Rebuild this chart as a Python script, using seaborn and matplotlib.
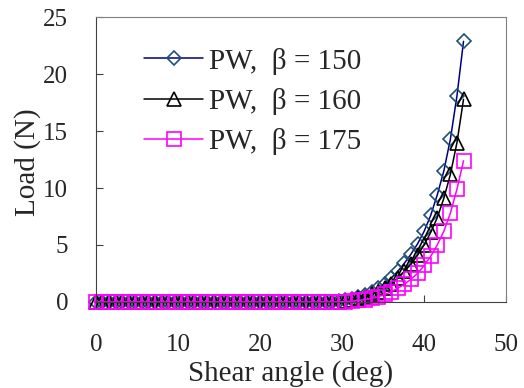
import pandas as pd
import matplotlib
matplotlib.use("Agg")
import matplotlib.pyplot as plt
import seaborn as sns

# shear angle (deg)
angle = [0.0, 0.8, 1.6, 2.4, 3.2, 4.0, 4.8, 5.6, 6.4, 7.2, 8.0, 8.8, 9.6, 10.4, 11.2,
         12.0, 12.8, 13.6, 14.4, 15.2, 16.0, 16.8, 17.6, 18.4, 19.2, 20.0, 20.8, 21.6,
         22.4, 23.2, 24.0, 24.8, 25.6, 26.4, 27.2, 28.0, 28.8, 29.6, 30.4, 31.2, 32.0,
         32.8, 33.6, 34.4, 35.2, 36.0, 36.8, 37.6, 38.4, 39.2, 40.0, 40.8, 41.6, 42.4,
         43.2, 44.0, 44.8]

flat = [0.0, 0.0, 0.0, 0.0, 0.0, 0.0, 0.0, 0.0, 0.0, 0.0, 0.0, 0.0, 0.0, 0.0, 0.0,
        0.0, 0.0, 0.0, 0.0, 0.0, 0.0, 0.0, 0.0, 0.0, 0.0, 0.0, 0.0, 0.0, 0.0, 0.0,
        0.0, 0.0, 0.0, 0.0, 0.0, 0.0, 0.0]

load_150 = flat + [0.05, 0.12, 0.25, 0.4, 0.6, 0.85, 1.2, 1.6, 2.1, 2.7, 3.4, 4.2,
                   5.1, 6.2, 7.6, 9.4, 11.5, 14.3, 18.1, 22.9]
load_160 = flat + [0.03, 0.08, 0.18, 0.3, 0.45, 0.65, 0.9, 1.2, 1.6, 2.1, 2.7, 3.3,
                   4.1, 5.0, 6.1, 7.4, 9.1, 11.2, 14.0, 17.8]
load_175 = flat + [0.0, 0.02, 0.06, 0.12, 0.2, 0.3, 0.45, 0.65, 0.9, 1.2, 1.55, 2.0,
                   2.5, 3.2, 4.0, 5.0, 6.2, 7.8, 9.9, 12.4]

labels = ["PW,  \u03b2 = 150", "PW,  \u03b2 = 160", "PW,  \u03b2 = 175"]
series = [load_150, load_160, load_175]
line_colors = ["#000080", "#000000", "#FF00FF"]
edge_colors = ["#1F4E79", "#000000", "#FF00FF"]
markers = ["D", "^", "s"]
sizes = [7.5, 10.5, 10]

sns.set_style("ticks")
plt.rcParams["font.family"] = ["Liberation Serif", "DejaVu Serif"]

fig = plt.figure(figsize=(5.24, 3.88), dpi=100)
ax = fig.add_axes([0.183, 0.222, 0.783, 0.733])

for lab, vals, lc, ec, mk, ms in zip(labels, series, line_colors, edge_colors, markers, sizes):
    df = pd.DataFrame({"angle": angle, "load": vals})
    sns.lineplot(data=df, x="angle", y="load", ax=ax, color=lc, marker=mk,
                 markersize=ms, mfc="none", mec=ec, mew=1.2, linewidth=1.1,
                 label=lab, clip_on=False)

ax.set_xlim(0, 50)
ax.set_ylim(0, 25)
ax.set_xticks([0, 10, 20, 30, 40, 50])
ax.set_yticks([0, 5, 10, 15, 20, 25])
ax.tick_params(axis="x", direction="in", length=5, pad=23, labelsize=18, color="#404040")
ax.tick_params(axis="y", direction="in", length=5, pad=20, labelsize=18, color="#404040")
ax.set_xlabel("Shear angle (deg)", fontsize=21)
ax.set_ylabel("Load (N)", fontsize=21)
ax.xaxis.set_label_coords(0.475, -0.205)
ax.yaxis.set_label_coords(-0.135, 0.49)

for side in ["top", "right"]:
    ax.spines[side].set_color("#808080")
for side in ["left", "bottom"]:
    ax.spines[side].set_color("#404040")

leg = ax.legend(loc="upper left", bbox_to_anchor=(0.09, 0.935), frameon=False,
                fontsize=21, handlelength=2.0, handletextpad=0.2, labelspacing=0.45,
                borderaxespad=0)

fig.savefig("out.png", dpi=100)
